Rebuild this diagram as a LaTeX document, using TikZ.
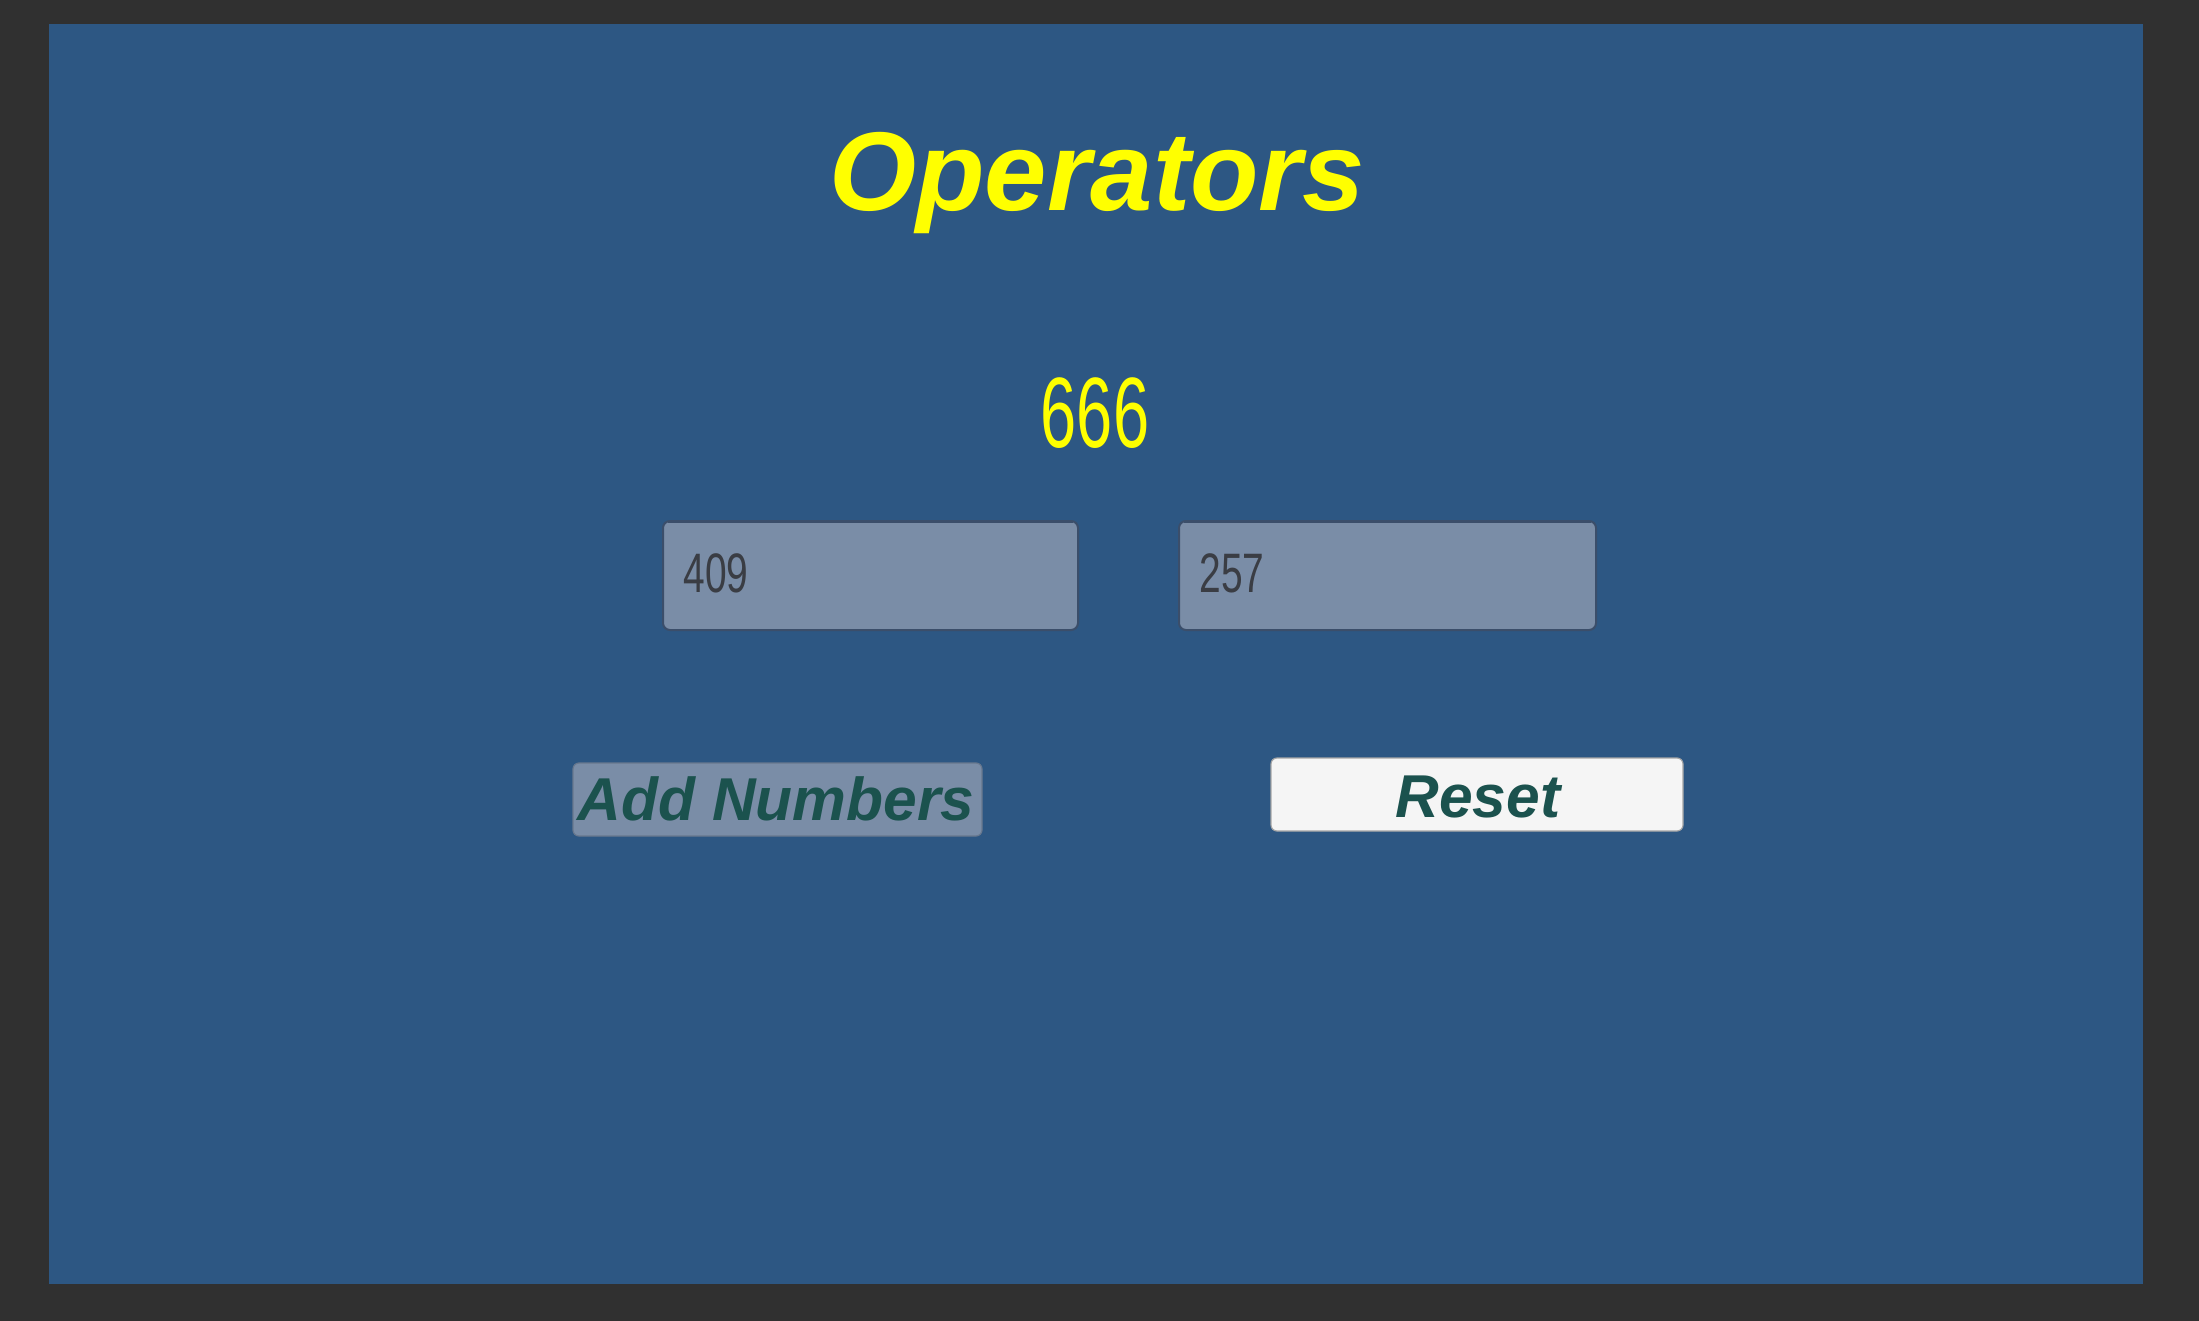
\documentclass[tikz,border=0pt]{standalone}
\usepackage{fontspec}
\setmainfont{Liberation Sans}
\usepackage{graphicx}
\definecolor{frame}{HTML}{303030}
\definecolor{panel}{HTML}{2D5783}
\definecolor{field}{HTML}{7A8DA7}
\definecolor{fieldedge}{HTML}{3B4E6A}
\definecolor{btnwhite}{HTML}{F5F5F5}
\definecolor{teal}{HTML}{1B524E}
\definecolor{ttl}{HTML}{FFFF00}
\definecolor{digit}{HTML}{3A3D44}
\tikzset{
  inputbox/.style={draw=fieldedge, line width=1pt, fill=field, rounded corners=3.5pt},
  btnbox/.style={rounded corners=3pt},
  btntext/.style={inner sep=0pt, anchor=base, text=teal, font=\fontsize{30.25}{32}\selectfont\bfseries\itshape},
}
\begin{document}
\begin{tikzpicture}[x=0.5pt,y=-0.5pt]
\useasboundingbox (0,0) rectangle (2199,1321);
\fill[frame] (0,0) rectangle (2199,1321);
\fill[panel] (49,24) rectangle (2143,1284);
% title
\node[inner sep=0pt, anchor=base, text=ttl, font=\fontsize{56}{60}\selectfont\bfseries\itshape] (title) at (1097,211) {Operators};
% result
\node[inner sep=0pt, anchor=base, text=ttl, font=\fontsize{50}{55}\selectfont] (result) at (1095,447) {\scalebox{0.65}[1]{666}};
% input fields
\draw[inputbox] (663,521) rectangle (1078,630);
\draw[fieldedge, line width=1pt] (668,521.5) -- (1073,521.5);
\node[inner sep=0pt, anchor=base west, text=digit, font=\fontsize{27.8}{30}\selectfont] (in1) at (683,592) {\scalebox{0.70}[1]{409}};
\draw[inputbox] (1179,521) rectangle (1596,630);
\draw[fieldedge, line width=1pt] (1184,521.5) -- (1591,521.5);
\node[inner sep=0pt, anchor=base west, text=digit, font=\fontsize{27.8}{30}\selectfont] (in2) at (1199,592) {\scalebox{0.70}[1]{257}};
% buttons
\draw[btnbox, fill=field, draw=field!85!black, line width=0.6pt] (573,763) rectangle (982,836);
\node[btntext] (add) at (776,820) {Add Numbers};
\draw[btnbox, fill=btnwhite, draw=gray!70, line width=0.6pt] (1271,758) rectangle (1683,831);
\node[btntext] (reset) at (1478,817) {Reset};
\end{tikzpicture}
\end{document}
